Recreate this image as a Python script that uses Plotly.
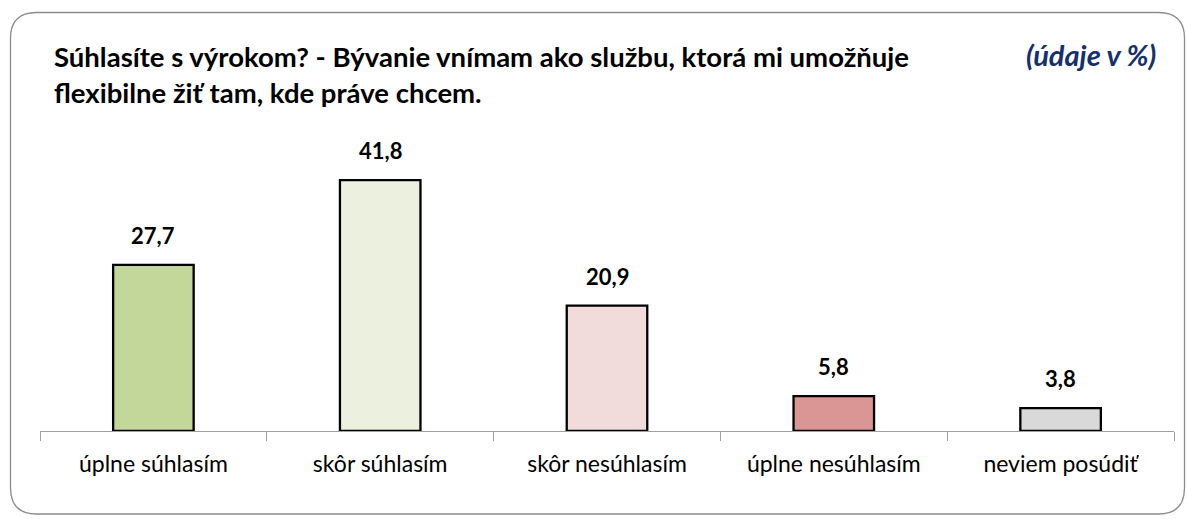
import plotly.graph_objects as go

categories = ["úplne súhlasím", "skôr súhlasím", "skôr nesúhlasím", "úplne nesúhlasím", "neviem posúdiť"]
values = [27.7, 41.8, 20.9, 5.8, 3.8]
labels = ["27,7", "41,8", "20,9", "5,8", "3,8"]
colors = ["#C4D79B", "#EBF1DE", "#F2DCDB", "#DA9694", "#D9D9D9"]

W, H = 1187, 519
FONT = "Lato"

fig = go.Figure()
fig.add_trace(go.Bar(
    x=categories, y=values,
    marker=dict(color=colors, line=dict(color="#000000", width=2.3)),
    width=0.355, hoverinfo="skip",
))

for c, v, t in zip(categories, values, labels):
    fig.add_annotation(x=c, y=v, text="<b>%s</b>" % t, showarrow=False,
                       yanchor="bottom", yshift=14, xref="x", yref="y",
                       font=dict(family=FONT, size=22, color="#000000"))

# rounded frame in paper coords
x0, x1, y0, y1, r = 10.5, 1184.5, 12.5, 514, 26
def px(x):
    return x / W
def py(y):
    return 1 - y / H
path = (f"M {px(x0+r)},{py(y0)} L {px(x1-r)},{py(y0)} Q {px(x1)},{py(y0)} {px(x1)},{py(y0+r)} "
        f"L {px(x1)},{py(y1-r)} Q {px(x1)},{py(y1)} {px(x1-r)},{py(y1)} "
        f"L {px(x0+r)},{py(y1)} Q {px(x0)},{py(y1)} {px(x0)},{py(y1-r)} "
        f"L {px(x0)},{py(y0+r)} Q {px(x0)},{py(y0)} {px(x0+r)},{py(y0)} Z")
fig.add_shape(type="path", path=path, xref="paper", yref="paper",
              line=dict(color="#8C8C8C", width=1.3), layer="below")

fig.add_annotation(x=px(52), y=py(75), xref="paper", yref="paper", xanchor="left", yanchor="middle",
                   align="left", showarrow=False,
                   text="<b>Súhlasíte s výrokom? - Bývanie vnímam ako službu, ktorá mi umožňuje<br>flexibilne žiť tam, kde práve chcem.</b>",
                   font=dict(family=FONT, size=27.5, color="#000000"))
fig.add_annotation(x=px(1158), y=py(55), xref="paper", yref="paper", xanchor="right", yanchor="middle",
                   showarrow=False, text="<b><i>(údaje v %)</i></b>",
                   font=dict(family=FONT, size=29, color="#16306E"))

fig.update_layout(
    width=W, height=H,
    margin=dict(l=0, r=0, t=0, b=0),
    paper_bgcolor="white", plot_bgcolor="white",
    showlegend=False, bargap=0.645,
    xaxis=dict(domain=[px(40), px(1174)], showline=True, linecolor="#A0A0A0", linewidth=1.3,
               tickson="boundaries", ticks="outside", ticklen=9, tickcolor="#A0A0A0", tickwidth=1.3,
               tickfont=dict(family=FONT, size=23, color="#000000"), ticklabelstandoff=12,
               showgrid=False, fixedrange=True),
    yaxis=dict(domain=[1 - 431 / H, 1 - 131 / H], range=[0, 50], visible=False, showgrid=False,
               fixedrange=True),
)

fig.write_html("out.html", config={"displayModeBar": False},
               post_script="document.body.style.margin='0';document.body.style.overflow='hidden';")
